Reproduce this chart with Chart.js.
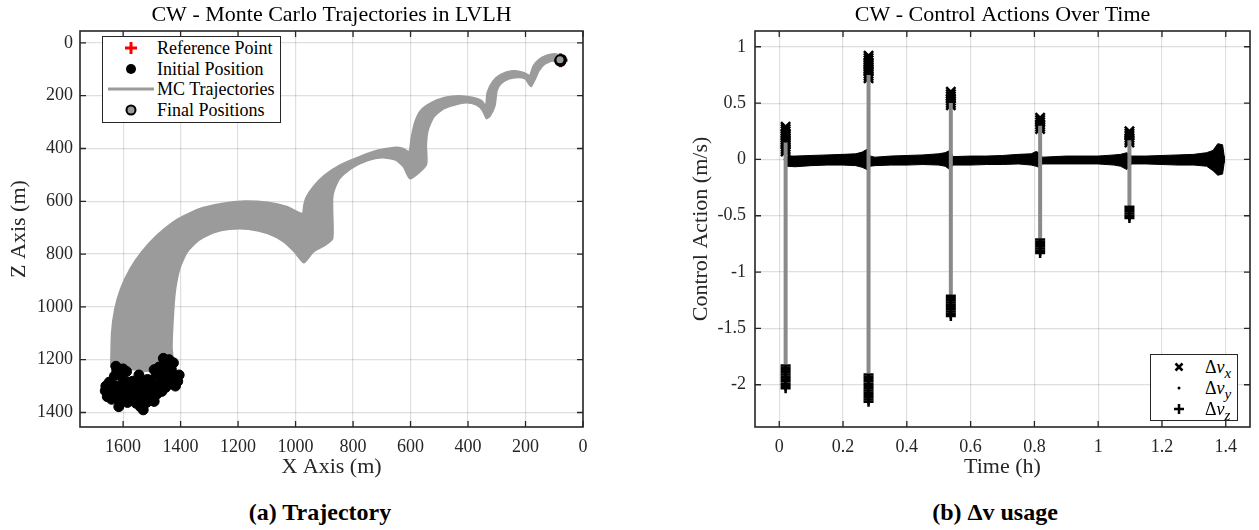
<!DOCTYPE html>
<html>
<head>
<meta charset="utf-8">
<script src="https://cdn.jsdelivr.net/npm/chart.js@4.4.1/dist/chart.umd.min.js"></script>
<style>
  body { margin: 0; width: 1259px; height: 530px; background: #fff; overflow: hidden; position: relative; font-family: "Liberation Serif", serif; }
  .wrap { position: absolute; top: 0; height: 480px; }
  #lwrap { left: 0; width: 620px; }
  #rwrap { left: 660px; width: 599px; }
  .lg { position: absolute; box-sizing: border-box; border: 1.5px solid #262626; background: #fff; color: #000; font-size: 18px; }
  .lg .row { position: absolute; left: 0; right: 0; height: 20px; line-height: 20px; white-space: nowrap; }
  .lg svg { position: absolute; left: 0; top: 0; }
  .lg span { position: absolute; left: 54px; }
  .cap { position: absolute; top: 500px; width: 400px; text-align: center; font: bold 24px/24px "Liberation Serif", serif; color: #000; }
</style>
</head>
<body>
<div class="wrap" id="lwrap"><canvas id="traj"></canvas></div>
<div class="wrap" id="rwrap"><canvas id="ctrl"></canvas></div>

<div class="lg" style="left:102px;top:36px;width:179px;height:87px">
  <div class="row" style="top:1px"><svg width="60" height="20"><path d="M28 4v12M22 10h12" stroke="#f00" stroke-width="3"/></svg><span>Reference Point</span></div>
  <div class="row" style="top:22px"><svg width="60" height="20"><circle cx="28" cy="10" r="5" fill="#000"/></svg><span>Initial Position</span></div>
  <div class="row" style="top:42px"><svg width="60" height="20"><path d="M5 10h46" stroke="#9b9b9b" stroke-width="3"/></svg><span>MC Trajectories</span></div>
  <div class="row" style="top:63px"><svg width="60" height="20"><circle cx="28" cy="10" r="4.5" fill="#9b9b9b" stroke="#000" stroke-width="2"/></svg><span>Final Positions</span></div>
</div>

<div class="lg" style="left:1150px;top:354px;width:88px;height:67px">
  <div class="row" style="top:2px"><svg width="50" height="20"><path d="M24.5 6.5l7 7M31.5 6.5l-7 7" stroke="#000" stroke-width="2.5"/></svg><span>&Delta;<i>v</i><sub><i>x</i></sub></span></div>
  <div class="row" style="top:23px"><svg width="50" height="20"><circle cx="28" cy="10" r="1.5" fill="#000"/></svg><span>&Delta;<i>v</i><sub><i>y</i></sub></span></div>
  <div class="row" style="top:44px"><svg width="50" height="20"><path d="M28 5v10M23 10h10" stroke="#000" stroke-width="2.5"/></svg><span>&Delta;<i>v</i><sub><i>z</i></sub></span></div>
</div>

<div class="cap" style="left:120px">(a) Trajectory</div>
<div class="cap" style="left:795px">(b) &Delta;v usage</div>

<script>
// ---------- (a) trajectories in LVLH, metres ----------
const xTicks = [0, 200, 400, 600, 800, 1000, 1200, 1400, 1600];
const zTicks = [0, 200, 400, 600, 800, 1000, 1200, 1400];

const refX = [78];
const refZ = [66];

const finalX = [78, 75, 81, 77, 80];
const finalZ = [66, 63, 68, 70, 64];

const initX = [1648, 1630, 1605, 1585, 1578, 1595, 1620, 1645, 1612, 1630, 1598, 1610, 1655, 1588, 1660, 1625,
               1565, 1545, 1522, 1505, 1518, 1540, 1560, 1575, 1530, 1550, 1500, 1515, 1545, 1482, 1492, 1530,
               1475, 1452, 1432, 1420, 1430, 1452, 1472, 1485, 1447, 1462, 1492, 1440, 1418, 1465, 1405, 1460,
               1640, 1618, 1600, 1578, 1568, 1555, 1535, 1512, 1495, 1470, 1450, 1435, 1410, 1480, 1505, 1528,
               1552, 1572, 1592, 1615, 1638, 1662, 1622, 1600, 1585, 1465, 1445, 1425];
const initZ = [1285, 1262, 1262, 1285, 1315, 1345, 1340, 1318, 1300, 1300, 1312, 1365, 1340, 1245, 1300, 1225,
               1300, 1285, 1305, 1335, 1362, 1378, 1350, 1325, 1332, 1318, 1300, 1275, 1258, 1330, 1358, 1390,
               1228, 1215, 1238, 1265, 1292, 1305, 1290, 1258, 1262, 1280, 1238, 1200, 1300, 1320, 1258, 1195,
               1350, 1318, 1285, 1340, 1282, 1365, 1355, 1345, 1318, 1305, 1282, 1220, 1282, 1300, 1280, 1310,
               1340, 1300, 1330, 1378, 1298, 1318, 1240, 1235, 1362, 1248, 1240, 1212];

// outline of the MC bundle: outer edge (start -> end) ...
const bundleTopX = [1643, 1640, 1629, 1609, 1576, 1536, 1483, 1416, 1337, 1257, 1177, 1097, 1031, 977, 971, 964,
                    938, 898, 845, 778, 712, 658, 625, 605, 598, 585, 565, 525, 479, 432, 386, 352, 339, 333,
                    313, 286, 246, 213, 193, 186, 173, 153, 126, 100, 80, 73];
const bundleTopZ = [1230, 1098, 1009, 932, 856, 792, 729, 671, 629, 608, 599, 604, 620, 646, 614, 587,
                    544, 500, 462, 431, 406, 396, 400, 412, 362, 300, 256, 225, 206, 200, 206, 219, 237, 187,
                    144, 119, 106, 110, 119, 125, 87, 62, 47, 41, 47, 62];
// ... and inner edge (end -> start)
const bundleLowX = [80, 106, 133, 153, 166, 180, 189, 200, 226, 259, 286, 299, 306, 323, 336, 350, 372, 406,
                    446, 485, 519, 539, 545, 545, 602, 625, 652, 698, 751, 805, 845, 865, 871, 871, 871, 898,
                    938, 971, 1004, 1044, 1097, 1164, 1230, 1283, 1337, 1377, 1403, 1419, 1426, 1430, 1430, 1536];
const bundleLowZ = [75, 69, 81, 106, 137, 165, 156, 137, 131, 137, 156, 181, 237, 277, 287, 256, 235, 227,
                    235, 250, 281, 331, 387, 462, 515, 469, 444, 435, 447, 475, 512, 556, 587, 639, 741, 767,
                    792, 833, 792, 752, 722, 706, 706, 718, 748, 792, 856, 945, 1047, 1149, 1230, 1245];

// ---------- (b) control actions, m/s over hours ----------
const timeTicks = [0, 0.2, 0.4, 0.6, 0.8, 1, 1.2, 1.4];
const actionTicks = [-2, -1.5, -1, -0.5, 0, 0.5, 1];

const burnTimes = [0.02, 0.28, 0.538, 0.818, 1.098];
const burnTop = [0.15, 0.75, 0.5, 0.3, 0.17];
const burnBottom = [-1.82, -1.9, -1.2, -0.7, -0.41];

const dvxT = [0.02, 0.02, 0.02, 0.02, 0.02, 0.02, 0.02, 0.02, 0.02, 0.02, 0.02, 0.02,
              0.28, 0.28, 0.28, 0.28, 0.28, 0.28, 0.28, 0.28, 0.28, 0.28, 0.28,
              0.538, 0.538, 0.538, 0.538, 0.538, 0.538, 0.538,
              0.818, 0.818, 0.818, 0.818, 0.818, 0.818,
              1.098, 1.098, 1.098, 1.098, 1.098, 1.098];
const dvxV = [0.29, 0.27, 0.25, 0.23, 0.21, 0.19, 0.17, 0.15, 0.13, 0.11, 0.09, 0.07,
              0.92, 0.9, 0.88, 0.86, 0.84, 0.82, 0.8, 0.78, 0.76, 0.74, 0.72,
              0.6, 0.58, 0.56, 0.54, 0.52, 0.5, 0.48,
              0.37, 0.35, 0.33, 0.31, 0.29, 0.27,
              0.25, 0.23, 0.21, 0.19, 0.17, 0.15];
const dvyT = [0.02, 0.28, 0.538, 0.818, 1.098];
const dvyV = [0, 0, 0, 0, 0];
const dvzT = [0.02, 0.02, 0.02, 0.02, 0.02, 0.02, 0.02, 0.02, 0.02, 0.02, 0.02,
              0.28, 0.28, 0.28, 0.28, 0.28, 0.28, 0.28, 0.28, 0.28, 0.28, 0.28, 0.28, 0.28,
              0.538, 0.538, 0.538, 0.538, 0.538, 0.538, 0.538, 0.538, 0.538, 0.538,
              0.818, 0.818, 0.818, 0.818, 0.818, 0.818, 0.818,
              1.098, 1.098, 1.098, 1.098, 1.098, 1.098];
const dvzV = [-1.83, -1.85, -1.87, -1.89, -1.91, -1.93, -1.95, -1.97, -1.99, -2.01, -2.03,
              -1.91, -1.93, -1.95, -1.97, -1.99, -2.01, -2.03, -2.05, -2.07, -2.09, -2.11, -2.13, -2.15,
              -1.21, -1.23, -1.25, -1.27, -1.29, -1.31, -1.33, -1.35, -1.37, -1.39,
              -0.71, -0.73, -0.75, -0.77, -0.79, -0.81, -0.83,
              -0.42, -0.44, -0.46, -0.48, -0.5, -0.52];

// envelope of the dense near-zero cloud
const bandT  = [0.022, 0.05, 0.1, 0.15, 0.2, 0.24, 0.26, 0.275, 0.285, 0.3, 0.35, 0.4, 0.45, 0.5, 0.52, 0.535,
                0.545, 0.6, 0.65, 0.7, 0.75, 0.79, 0.805, 0.815, 0.825, 0.9, 1.0, 1.05, 1.07, 1.09, 1.105,
                1.15, 1.2, 1.25, 1.3, 1.34, 1.36, 1.375, 1.39, 1.395];
const bandUp = [0.03, 0.03, 0.035, 0.04, 0.045, 0.05, 0.065, 0.09, 0.03, 0.02, 0.03, 0.035, 0.04, 0.05, 0.06, 0.08,
                0.025, 0.03, 0.03, 0.035, 0.045, 0.05, 0.07, 0.06, 0.02, 0.03, 0.03, 0.04, 0.045, 0.06, 0.03,
                0.03, 0.035, 0.04, 0.045, 0.06, 0.08, 0.14, 0.13, 0.03];
const bandLo = [-0.06, -0.065, -0.055, -0.05, -0.05, -0.055, -0.07, -0.09, -0.06, -0.055, -0.05, -0.05, -0.045, -0.05, -0.06, -0.09,
                -0.05, -0.05, -0.045, -0.045, -0.04, -0.05, -0.06, -0.07, -0.04, -0.04, -0.04, -0.05, -0.06, -0.09, -0.04,
                -0.04, -0.045, -0.05, -0.05, -0.06, -0.1, -0.14, -0.13, -0.03];

// ---------- helpers ----------
const zip = (xs, ys) => xs.map((x, i) => ({x: x, y: ys[i]}));
const serif = '"Liberation Serif", serif';
const tickFont = {family: serif, size: 18};
const labelFont = {family: serif, size: 22};
const gridColor = 'rgba(38,38,38,0.15)';

const frame = {
  id: 'frame',
  afterDatasetsDraw(chart) {
    const {ctx, chartArea: a} = chart;
    const sx = chart.scales.x, sy = chart.scales.y;
    ctx.save();
    ctx.strokeStyle = '#262626';
    ctx.lineWidth = 1.3;
    ctx.beginPath();
    sx.ticks.forEach(t => {
      const p = sx.getPixelForValue(t.value);
      ctx.moveTo(p, a.bottom); ctx.lineTo(p, a.bottom - 6);
      ctx.moveTo(p, a.top); ctx.lineTo(p, a.top + 6);
    });
    sy.ticks.forEach(t => {
      const p = sy.getPixelForValue(t.value);
      ctx.moveTo(a.left, p); ctx.lineTo(a.left + 6, p);
      ctx.moveTo(a.right, p); ctx.lineTo(a.right - 6, p);
    });
    ctx.stroke();
    ctx.lineWidth = 1.6;
    ctx.strokeRect(a.left, a.top, a.right - a.left, a.bottom - a.top);
    ctx.restore();
  }
};

const panelTitle = {
  id: 'panelTitle',
  afterDraw(chart, args, opts) {
    const {ctx, chartArea: a} = chart;
    ctx.save();
    ctx.font = '22px ' + serif;
    ctx.fillStyle = '#000';
    ctx.textAlign = 'center';
    ctx.fillText(opts.text, (a.left + a.right) / 2, 21);
    ctx.restore();
  }
};

function makeAxis(min, max, ticks, reverse, title, horizontal, tickPad, titlePad, size) {
  return {
    type: 'linear', min: min, max: max, reverse: reverse,
    afterBuildTicks: s => { s.ticks = ticks.map(v => ({value: v})); },
    afterFit: s => { if (horizontal) s.height = size; else s.width = size; },
    grid: {color: gridColor, lineWidth: 1.2, drawTicks: false},
    border: {display: false},
    ticks: {padding: tickPad, maxRotation: 0, autoSkip: false, color: '#262626', font: tickFont, callback: v => String(v)},
    title: {display: true, text: title, color: '#262626', font: labelFont, padding: {top: titlePad, bottom: 0}}
  };
}

Chart.defaults.animation = false;
Chart.defaults.font.family = serif;

new Chart(document.getElementById('traj'), {
  type: 'line',
  data: {
    datasets: [
      {label: 'Reference Point', data: zip(refX, refZ), showLine: false, pointStyle: 'cross', pointRadius: 7,
       pointBorderWidth: 3, borderColor: '#ff0000', pointBorderColor: '#ff0000', order: 4},
      {label: 'Initial Position', data: zip(initX, initZ), showLine: false, pointStyle: 'circle', pointRadius: 5,
       pointBorderWidth: 1, borderColor: '#000', pointBorderColor: '#000', pointBackgroundColor: '#000', order: 1},
      {label: 'MC Trajectories', data: zip(bundleTopX.concat(bundleLowX), bundleTopZ.concat(bundleLowZ)),
       fill: 'shape', backgroundColor: '#9b9b9b', borderColor: '#9b9b9b', borderWidth: 1.5, pointRadius: 0,
       tension: 0.2, order: 3},
      {label: 'Final Positions', data: zip(finalX, finalZ), showLine: false, pointStyle: 'circle', pointRadius: 4.5,
       pointBorderWidth: 2, borderColor: '#000', pointBorderColor: '#000', pointBackgroundColor: '#9b9b9b', order: 0}
    ]
  },
  options: {
    responsive: true, maintainAspectRatio: false, events: [],
    layout: {padding: {top: 31, right: 37, left: 0, bottom: 0}},
    plugins: {legend: {display: false}, tooltip: {enabled: false}, panelTitle: {text: 'CW - Monte Carlo Trajectories in LVLH'}},
    scales: {
      x: makeAxis(0, 1750, xTicks, true, 'X Axis (m)', true, 9, 0, 53),
      y: makeAxis(-45, 1455, zTicks, true, 'Z Axis (m)', false, 7, 6, 80)
    }
  },
  plugins: [frame, panelTitle]
});

const greyBars = [];
burnTimes.forEach((t, i) => {
  greyBars.push({x: t, y: burnTop[i]}, {x: t, y: burnBottom[i]}, {x: t, y: null});
});

new Chart(document.getElementById('ctrl'), {
  type: 'line',
  data: {
    datasets: [
      {label: 'band', data: zip(bandT.concat(bandT.slice().reverse()), bandUp.concat(bandLo.slice().reverse())),
       fill: 'shape', backgroundColor: '#000', borderColor: '#000', borderWidth: 1, pointRadius: 0, order: 5},
      {label: 'bars', data: greyBars, borderColor: '#8a8a8a', borderWidth: 4, pointRadius: 0, spanGaps: false, order: 0},
      {label: '\u0394v_x', data: zip(dvxT, dvxV), showLine: false, pointStyle: 'crossRot', pointRadius: 6.5,
       pointBorderWidth: 2.5, borderColor: '#000', pointBorderColor: '#000', order: 2},
      {label: '\u0394v_y', data: zip(dvyT, dvyV), showLine: false, pointStyle: 'circle', pointRadius: 1.5,
       borderColor: '#000', pointBorderColor: '#000', pointBackgroundColor: '#000', order: 3},
      {label: '\u0394v_z', data: zip(dvzT, dvzV), showLine: false, pointStyle: 'cross', pointRadius: 5,
       pointBorderWidth: 2.5, borderColor: '#000', pointBorderColor: '#000', order: 2}
    ]
  },
  options: {
    responsive: true, maintainAspectRatio: false, events: [],
    layout: {padding: {top: 31, right: 1, left: 0, bottom: 0}},
    plugins: {legend: {display: false}, tooltip: {enabled: false}, panelTitle: {text: 'CW - Control Actions Over Time'}},
    scales: {
      x: makeAxis(-0.076, 1.476, timeTicks, false, 'Time (h)', true, 9, 0, 53),
      y: makeAxis(-2.375, 1.14, actionTicks, false, 'Control Action (m/s)', false, 9, 28, 95)
    }
  },
  plugins: [frame, panelTitle]
});
</script>
</body>
</html>
